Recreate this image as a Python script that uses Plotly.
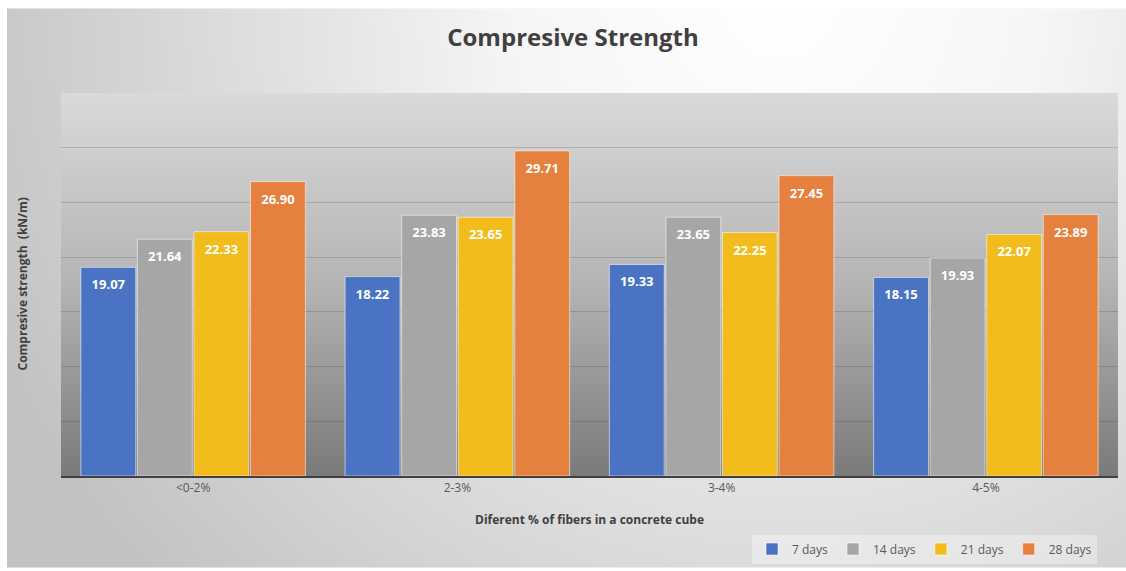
import base64
import plotly.graph_objects as go

categories = ["<0-2%", "2-3%", "3-4%", "4-5%"]
series_names = ["7 days", "14 days", "21 days", "28 days"]
days7 = [19.07, 18.22, 19.33, 18.15]
days14 = [21.64, 23.83, 23.65, 19.93]
days21 = [22.33, 23.65, 22.25, 22.07]
days28 = [26.90, 29.71, 27.45, 23.89]
series_values = [days7, days14, days21, days28]
colors = ["#4A73C3", "#A6A6A6", "#F2BC1C", "#E6803E"]

W, H = 1126, 571
ML, MR, MT, MB = 61, 8, 93, 93
PW, PH = W - ML - MR, H - MT - MB

svg = f'''<svg xmlns="http://www.w3.org/2000/svg" width="{W}" height="{H}" viewBox="0 0 {W} {H}">
<defs>
<radialGradient id="g" gradientUnits="userSpaceOnUse" cx="780" cy="0" r="860">
<stop offset="0" stop-color="#ffffff"/><stop offset="0.3" stop-color="#f6f6f6"/><stop offset="1" stop-color="#c2c2c2"/>
</radialGradient>
<linearGradient id="p" x1="0" y1="0" x2="0" y2="1">
<stop offset="0" stop-color="#dadada"/><stop offset="0.5" stop-color="#b4b4b4"/><stop offset="1" stop-color="#7a7a7a"/>
</linearGradient></defs>
<rect width="{W}" height="{H}" fill="#ffffff"/>
<rect x="7" y="8" width="{W-7}" height="{H-9}" fill="url(#g)"/>
<rect x="{ML}" y="{MT}" width="{PW}" height="{PH}" fill="url(#p)"/>
</svg>'''
src = "data:image/svg+xml;base64," + base64.b64encode(svg.encode()).decode()

font = "Open Sans"
fig = go.Figure()
for name, vals, col in zip(series_names, series_values, colors):
    fig.add_trace(go.Bar(
        x=categories, y=vals, name=name, offsetgroup=name,
        marker=dict(color=col, line=dict(color="rgba(255,255,255,0.55)", width=1)),
        hoverinfo="skip",
    ))
# value labels placed inside the top of each bar
for name, vals in zip(series_names, series_values):
    fig.add_trace(go.Scatter(
        x=categories, y=vals, name=name, offsetgroup=name, mode="markers+text",
        marker=dict(size=18, color="rgba(0,0,0,0)"),
        text=[f"{v:.2f}" for v in vals], textposition="bottom center",
        textfont=dict(color="white", size=13, family=font, weight="bold"),
        showlegend=False, hoverinfo="skip", cliponaxis=False,
    ))

fig.update_layout(
    width=W, height=H,
    margin=dict(l=ML, r=MR, t=MT, b=MB),
    paper_bgcolor="white", plot_bgcolor="rgba(0,0,0,0)",
    barmode="group", bargap=0.144, bargroupgap=0.03,
    scattermode="group", scattergap=0.144,
    images=[dict(source=src, xref="paper", yref="paper",
                 x=-ML / PW, y=1 + MT / PH, sizex=W / PW, sizey=H / PH,
                 xanchor="left", yanchor="top", sizing="stretch", layer="below")],
    title=dict(text="<b>Compresive Strength</b>", x=573 / W, xref="container", xanchor="center",
               y=1 - 38 / H, yref="container", yanchor="middle",
               font=dict(family=font, size=24, color="#404040")),
    showlegend=True,
    legend=dict(orientation="h", x=(1097 - ML) / PW, xanchor="right",
                y=(MT + PH - 566) / PH, yanchor="bottom",
                bgcolor="rgba(255,255,255,0.35)", borderwidth=0,
                font=dict(family=font, size=12, color="#595959"),
                traceorder="normal"),
    font=dict(family=font, color="#595959"),
)
fig.update_xaxes(showline=True, linecolor="#404040", linewidth=2, ticks="",
                 tickfont=dict(size=12, color="#595959", family=font),
                 showgrid=False)
fig.update_yaxes(range=[0, 35], dtick=5, showgrid=True, gridcolor="rgba(50,50,50,0.2)",
                 gridwidth=1, zeroline=False, showticklabels=False, ticks="")
fig.add_annotation(text="<b>Diferent % of fibers in a concrete cube</b>", xref="paper", yref="paper",
                   x=0.5, y=(MT + PH - 522) / PH, xanchor="center", yanchor="middle",
                   showarrow=False, font=dict(family=font, size=12, color="#404040"))
fig.add_annotation(text="<b>Compresive strength  (kN/m)</b>", xref="paper", yref="paper",
                   x=(22 - ML) / PW, y=0.5, xanchor="center", yanchor="middle", textangle=-90,
                   showarrow=False, font=dict(family=font, size=12, color="#404040"))

fig.write_html("out.html")
